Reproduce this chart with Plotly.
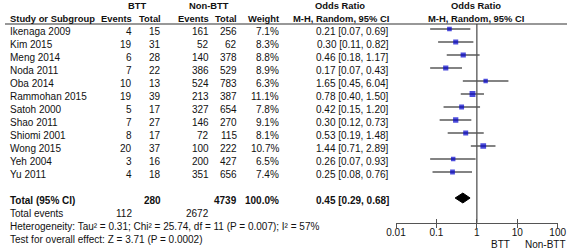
import plotly.graph_objects as go
import math

# ---------------- data ----------------
studies = ["Ikenaga 2009", "Kim 2015", "Meng 2014", "Noda 2011", "Oba 2014", "Rammohan 2015",
           "Satoh 2000", "Shao 2011", "Shiomi 2001", "Wong 2015", "Yeh 2004", "Yu 2011"]
btt_events = [4, 19, 6, 7, 10, 19, 5, 7, 8, 20, 3, 4]
btt_total = [15, 31, 28, 22, 13, 39, 17, 27, 17, 37, 16, 18]
non_events = [161, 52, 140, 386, 524, 213, 327, 146, 72, 100, 200, 351]
non_total = [256, 62, 378, 529, 783, 387, 654, 270, 115, 222, 427, 656]
weights = [7.1, 8.3, 8.8, 8.9, 6.3, 11.1, 7.8, 9.1, 8.1, 10.7, 6.5, 7.4]
odds = [0.21, 0.30, 0.46, 0.17, 1.65, 0.78, 0.42, 0.30, 0.53, 1.44, 0.26, 0.25]
ci_low = [0.07, 0.11, 0.18, 0.07, 0.45, 0.40, 0.15, 0.12, 0.19, 0.71, 0.07, 0.08]
ci_high = [0.69, 0.82, 1.17, 0.43, 6.04, 1.50, 1.20, 0.73, 1.48, 2.89, 0.93, 0.76]

total_btt = 280
total_non = 4739
total_weight = 100.0
total_or = 0.45
total_low = 0.29
total_high = 0.68
events_btt = 112
events_non = 2672
heterogeneity = "Heterogeneity: Tau² = 0.31; Chi² = 25.74, df = 11 (P = 0.007); I² = 57%"
overall = "Test for overall effect: Z = 3.71 (P = 0.0002)"

tick_vals = [0.01, 0.1, 1, 10, 100]
tick_text = ["0.01", "0.1", "1", "10", "100"]

# ---------------- layout constants ----------------
W, H = 567, 250
FONT = "Liberation Sans, Arial, sans-serif"
TXT = "#111111"
FS = 10
FS_HEAD = 9.4

COL_STUDY = 8
COL_BE = 134
COL_BT = 163
COL_NE = 211
COL_NT = 239
COL_W = 281
COL_OR = 391
OR_CENTER = 340
PLOT_CENTER = 476

y_top_px, y_bot_px = 24, 222.7
row_px0, row_step = 29, 13.0
TEXT_DROP = 2.5


def px(x):
    return x / W


def row_paper(i):
    return 1 - (row_px0 + row_step * i + TEXT_DROP) / H


n = len(studies)
rows = list(range(n))
total_row = n + 1

fig = go.Figure()

# CI lines
xs, ys = [], []
for i in rows:
    xs += [ci_low[i], ci_high[i], None]
    ys += [i, i, None]
fig.add_trace(go.Scatter(x=xs, y=ys, mode="lines", line=dict(color="#5a5a5a", width=1.6),
                         hoverinfo="skip", showlegend=False))
# squares
fig.add_trace(go.Scatter(x=odds, y=rows, mode="markers",
                         marker=dict(symbol="square", color="#0000CC",
                                     size=[1.75 * math.sqrt(w) for w in weights], line=dict(width=0)),
                         showlegend=False))
# diamond
dh = 0.38
fig.add_trace(go.Scatter(x=[total_low, total_or, total_high, total_or, total_low],
                         y=[total_row, total_row - dh, total_row, total_row + dh, total_row],
                         mode="lines", fill="toself", fillcolor="black",
                         line=dict(color="black", width=1), showlegend=False))
# helper traces for tick overlays
for ax in ("x2", "x3"):
    fig.add_trace(go.Scatter(x=[1], y=[0], xaxis=ax, mode="markers", marker=dict(opacity=0),
                             showlegend=False, hoverinfo="skip"))

annots = []


def add(text, x, i, anchor="left", bold=False, size=FS):
    annots.append(dict(text=f"<b>{text}</b>" if bold else text, x=px(x), y=row_paper(i),
                       xref="paper", yref="paper",
                       xanchor=anchor, yanchor="middle", showarrow=False,
                       font=dict(family=FONT, size=size, color=TXT)))


def head(text, x, i, anchor):
    add(text, x, i, anchor, True, FS_HEAD)


# headers
head("BTT", (111 + COL_BT) / 2, -2, "center")
head("Non-BTT", (178 + COL_NT) / 2, -2, "center")
head("Odds Ratio", OR_CENTER, -2, "center")
head("Odds Ratio", PLOT_CENTER, -2, "center")
head("Study or Subgroup", COL_STUDY, -1, "left")
head("Events", COL_BE, -1, "right")
head("Total", COL_BT, -1, "right")
head("Events", COL_NE, -1, "right")
head("Total", COL_NT, -1, "right")
head("Weight", COL_W, -1, "right")
head("M-H, Random, 95% CI", COL_OR, -1, "right")
head("M-H, Random, 95% CI", PLOT_CENTER, -1, "center")

for i in rows:
    add(studies[i], COL_STUDY, i)
    add(str(btt_events[i]), COL_BE, i, "right")
    add(str(btt_total[i]), COL_BT, i, "right")
    add(str(non_events[i]), COL_NE, i, "right")
    add(str(non_total[i]), COL_NT, i, "right")
    add(f"{weights[i]:.1f}%", COL_W, i, "right")
    add(f"{odds[i]:.2f} [{ci_low[i]:.2f}, {ci_high[i]:.2f}]", COL_OR, i, "right")

add("Total (95% CI)", COL_STUDY, total_row, "left", True)
add(str(total_btt), COL_BT, total_row, "right", True)
add(str(total_non), COL_NT, total_row, "right", True)
add(f"{total_weight:.1f}%", COL_W, total_row, "right", True)
add(f"{total_or:.2f} [{total_low:.2f}, {total_high:.2f}]", COL_OR, total_row, "right", True)
add("Total events", COL_STUDY, total_row + 1)
add(str(events_btt), COL_BE, total_row + 1, "right")
add(str(events_non), COL_NE, total_row + 1, "right")
add(heterogeneity, COL_STUDY, total_row + 2)
add(overall, COL_STUDY, total_row + 3)

# favours labels
for txt, anc, sh in (("BTT", "right", -5), ("Non-BTT", "left", 6)):
    annots.append(dict(text=txt, x=1, y=0, xref="x", yref="paper", xanchor=anc, yanchor="middle",
                       xshift=sh, yshift=6, showarrow=False,
                       font=dict(family=FONT, size=FS, color=TXT)))

y_range = [(y_bot_px - row_px0) / row_step, (y_top_px - row_px0) / row_step]
x_dom = [396 / W, 557.7 / W]

shapes = [
    dict(type="line", xref="x", yref="y domain", x0=1, x1=1, y0=0, y1=1,
         line=dict(color="#555555", width=1.3)),
    dict(type="line", xref="paper", yref="y domain", x0=px(5), x1=1, y0=1, y1=1,
         line=dict(color="#333333", width=1.2)),
]

tick_common = dict(type="log", range=[-2, 2], domain=x_dom, overlaying="x", side="bottom",
                   anchor="y", showgrid=False, zeroline=False, showline=False, ticklen=4,
                   tickcolor="#555555", tickwidth=1.3, tickvals=tick_vals, showticklabels=False)

fig.update_layout(
    width=W, height=H, margin=dict(l=0, r=0, t=0, b=0, autoexpand=False),
    paper_bgcolor="white", plot_bgcolor="white",
    showlegend=False,
    xaxis=dict(type="log", range=[-2, 2], domain=x_dom, showgrid=False, zeroline=False,
               showline=True, linecolor="#555555", linewidth=1.3,
               ticks="", tickvals=tick_vals, ticktext=tick_text,
               tickfont=dict(family=FONT, size=FS, color=TXT), anchor="y"),
    xaxis2=dict(ticks="inside", **tick_common),
    xaxis3=dict(ticks="outside", **tick_common),
    yaxis=dict(range=y_range, domain=[1 - y_bot_px / H, 1 - y_top_px / H], visible=False),
    annotations=annots, shapes=shapes,
)

fig.write_html("out.html", config={"displayModeBar": False},
               post_script="document.body.style.margin='0px';document.body.style.padding='0px';")
